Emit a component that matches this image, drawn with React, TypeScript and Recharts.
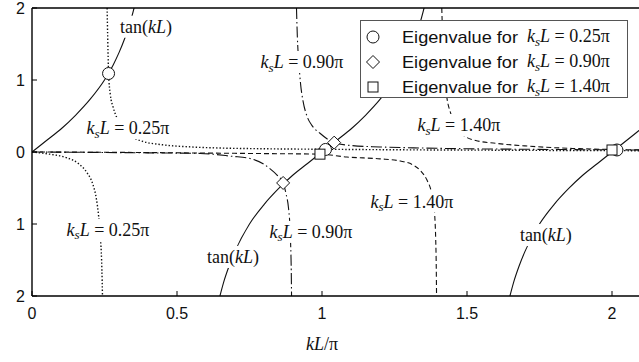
import React from 'react';
import { ComposedChart, Line, Scatter, XAxis, YAxis, ReferenceDot, Legend } from 'recharts';

// ---------- axes ----------
const xTicks = [0, 0.5, 1, 1.5, 2];
const xTickLabels = ['0', '0.5', '1', '1.5', '2'];
const yTicks = [-2, -1, 0, 1, 2];
const yTickLabels = ['2', '1', '0', '1', '2'];

// ---------- tan(kL) branches ----------
const tanAx = [0, 0.05, 0.1, 0.15, 0.2, 0.25, 0.28, 0.3, 0.32, 0.34, 0.352];
const tanAy = [0, 0.16, 0.32, 0.51, 0.73, 1.0, 1.21, 1.38, 1.58, 1.82, 2.0];
const tanBx = [0.648, 0.66, 0.68, 0.7, 0.75, 0.8, 0.85, 0.9, 0.95, 1.0, 1.05, 1.1, 1.15, 1.2, 1.25, 1.3, 1.32, 1.34, 1.352];
const tanBy = [-2.0, -1.82, -1.58, -1.38, -1.0, -0.73, -0.51, -0.32, -0.16, 0, 0.16, 0.32, 0.51, 0.73, 1.0, 1.38, 1.58, 1.82, 2.0];
const tanCx = [1.648, 1.66, 1.68, 1.7, 1.75, 1.8, 1.85, 1.9, 1.95, 2.0, 2.05, 2.1];
const tanCy = [-2.0, -1.82, -1.58, -1.38, -1.0, -0.73, -0.51, -0.32, -0.16, 0, 0.16, 0.32];

// ---------- ksL = 0.25π (dotted) ----------
const ks025LowX = [0, 0.06, 0.12, 0.16, 0.19, 0.21, 0.222, 0.23, 0.236, 0.24, 0.242, 0.243];
const ks025LowY = [0, -0.03, -0.08, -0.16, -0.29, -0.45, -0.65, -0.9, -1.2, -1.5, -1.8, -2.0];
const ks025UpX = [0.259, 0.261, 0.264, 0.27, 0.28, 0.29, 0.3, 0.32, 0.34, 0.38, 0.45, 0.55, 0.65, 0.8, 1.0, 1.3, 1.6, 1.9, 2.1];
const ks025UpY = [2.0, 1.6, 1.1, 0.8, 0.62, 0.5, 0.42, 0.3, 0.22, 0.15, 0.1, 0.07, 0.055, 0.045, 0.038, 0.03, 0.025, 0.02, 0.018];

// ---------- ksL = 0.90π (dash-dot) ----------
const ks090LowX = [0, 0.2, 0.4, 0.58, 0.69, 0.752, 0.8, 0.82, 0.845, 0.866, 0.876, 0.884, 0.889, 0.892, 0.894, 0.895];
const ks090LowY = [0, -0.005, -0.012, -0.02, -0.06, -0.09, -0.17, -0.23, -0.32, -0.43, -0.58, -0.76, -1.0, -1.3, -1.65, -2.0];
const ks090UpX = [0.912, 0.915, 0.92, 0.926, 0.935, 0.948, 0.965, 0.993, 1.042, 1.1, 1.2, 1.35, 1.5, 1.7, 1.9, 2.1];
const ks090UpY = [2.0, 1.6, 1.25, 0.95, 0.7, 0.5, 0.37, 0.26, 0.13, 0.09, 0.07, 0.055, 0.045, 0.038, 0.032, 0.028];

// ---------- ksL = 1.40π (dashed) ----------
const ks140LowX = [0, 0.3, 0.6, 0.8, 0.993, 1.086, 1.2, 1.27, 1.314, 1.34, 1.362, 1.375, 1.383, 1.389, 1.392, 1.394, 1.395];
const ks140LowY = [0, -0.005, -0.015, -0.022, -0.03, -0.07, -0.095, -0.125, -0.18, -0.26, -0.39, -0.52, -0.67, -0.9, -1.2, -1.6, -2.0];
const ks140UpX = [1.413, 1.416, 1.42, 1.426, 1.432, 1.442, 1.46, 1.486, 1.53, 1.6, 1.7, 1.8, 1.9, 2.0, 2.1];
const ks140UpY = [2.0, 1.6, 1.2, 0.9, 0.72, 0.56, 0.38, 0.24, 0.16, 0.12, 0.085, 0.06, 0.045, 0.035, 0.03];

// ---------- eigenvalues ----------
const eigCircleX = [0.264, 1.012, 2.017];
const eigCircleY = [1.09, 0.035, 0.028];
const eigDiamondX = [0.866, 1.042];
const eigDiamondY = [-0.43, 0.13];
const eigSquareX = [0.993, 2.0];
const eigSquareY = [-0.03, 0.028];

// ---------- curve annotations ----------
const annotKind = ['tan', 'ks', 'ks', 'ks', 'ks', 'tan', 'ks', 'ks', 'tan'];
const annotValue = ['', '0.25', '0.90', '1.40', '0.25', '', '0.90', '1.40', ''];
const annotX = [0.393, 0.331, 0.931, 1.472, 0.262, 0.693, 0.962, 1.31, 1.772];
const annotY = [1.74, 0.33, 1.25, 0.375, -1.083, -1.458, -1.11, -0.69, -1.153];

const legendValues = ['0.25', '0.90', '1.40'];
const legendShapes = ['circle', 'diamond', 'square'];

const pts = (xs: number[], ys: number[]) => xs.map((x, i) => ({ x, y: ys[i] }));

const INK = '#111';
const SERIF = '"Liberation Serif", "Times New Roman", serif';
const SANS = '"Liberation Sans", Arial, sans-serif';

function Marker({ cx, cy, shape }: { cx: number; cy: number; shape: string }) {
  if (shape === 'circle') return <circle cx={cx} cy={cy} r={6} fill="#fff" stroke={INK} strokeWidth={1} />;
  if (shape === 'diamond') {
    const h = 6.5;
    return (
      <polygon
        points={`${cx},${cy - h} ${cx + h},${cy} ${cx},${cy + h} ${cx - h},${cy}`}
        fill="#fff"
        stroke={INK}
        strokeWidth={1}
      />
    );
  }
  return <rect x={cx - 5} y={cy - 5} width={10} height={10} fill="#fff" stroke={INK} strokeWidth={1} />;
}

function KsText({ x, y, value, anchor }: { x: number; y: number; value: string; anchor: 'start' | 'middle' }) {
  return (
    <text x={x} y={y} textAnchor={anchor} fontFamily={SERIF} fontSize={18} fill={INK}>
      <tspan fontStyle="italic">k</tspan>
      <tspan fontStyle="italic" fontSize={13} dy={3.5}>s</tspan>
      <tspan fontStyle="italic" dy={-3.5}>L</tspan>
      <tspan>{` = ${value}π`}</tspan>
    </text>
  );
}

function CurveLabel(props: any) {
  const { cx, cy, kind, value } = props;
  if (cx == null || cy == null) return null;
  const w = kind === 'tan' ? 58 : 94;
  return (
    <g>
      <rect x={cx - w / 2} y={cy - 11} width={w} height={22} fill="#fff" />
      {kind === 'tan' ? (
        <text x={cx} y={cy + 6} textAnchor="middle" fontFamily={SERIF} fontSize={18} fill={INK}>
          tan(<tspan fontStyle="italic">kL</tspan>)
        </text>
      ) : (
        <KsText x={cx} y={cy + 6} value={value} anchor="middle" />
      )}
    </g>
  );
}

function LegendBox() {
  return (
    <div
      style={{
        width: 268,
        height: 78,
        background: '#fff',
        border: '1px solid #555',
        boxSizing: 'border-box',
      }}
    >
      <svg width={266} height={76} style={{ display: 'block', overflow: 'visible' }}>
        {legendValues.map((v, i) => {
          const cy = 16 + i * 25;
          return (
            <g key={v}>
              <Marker cx={12} cy={cy} shape={legendShapes[i]} />
              <text
                x={41}
                y={cy + 6}
                fontFamily={SANS}
                fontSize={17}
                textLength={116}
                lengthAdjust="spacingAndGlyphs"
                fill={INK}
              >
                Eigenvalue for
              </text>
              <KsText x={166} y={cy + 5} value={v} anchor="start" />
            </g>
          );
        })}
      </svg>
    </div>
  );
}

const axisLine = { stroke: '#000', strokeWidth: 1.4 };
const tickLine = { stroke: '#000', strokeWidth: 1 };

export default function App() {
  const curves = [
    { d: pts(tanAx, tanAy), dash: undefined, w: 1.1 },
    { d: pts(tanBx, tanBy), dash: undefined, w: 1.1 },
    { d: pts(tanCx, tanCy), dash: undefined, w: 1.1 },
    { d: pts(ks025LowX, ks025LowY), dash: '1.4 2', w: 1.4 },
    { d: pts(ks025UpX, ks025UpY), dash: '1.4 2', w: 1.4 },
    { d: pts(ks090LowX, ks090LowY), dash: '11 3 1.5 3', w: 1.1 },
    { d: pts(ks090UpX, ks090UpY), dash: '11 3 1.5 3', w: 1.1 },
    { d: pts(ks140LowX, ks140LowY), dash: '5 3', w: 1.1 },
    { d: pts(ks140UpX, ks140UpY), dash: '5 3', w: 1.1 },
  ];
  return (
    <div style={{ position: 'absolute', left: 0, top: 0, width: 639, height: 362, overflow: 'hidden', background: '#fff' }}>
      <ComposedChart width={660} height={362} margin={{ top: 7, right: 18, left: 0, bottom: 0 }}>
        <XAxis
          xAxisId="b"
          type="number"
          dataKey="x"
          domain={[0, 2.1]}
          ticks={xTicks}
          interval={0}
          allowDataOverflow
          tickFormatter={(v: number) => xTickLabels[xTicks.indexOf(v)]}
          tickSize={-5}
          tickMargin={17}
          height={66}
          axisLine={axisLine}
          tickLine={tickLine}
          tick={{ fill: INK, fontSize: 16, fontFamily: SANS }}
          label={{
            content: (p: any) => {
              const vb = p.viewBox || {};
              return (
                <text x={vb.x + 290} y={vb.y + 54} textAnchor="middle" fontFamily={SERIF} fontSize={18} fill={INK}>
                  <tspan fontStyle="italic">kL</tspan>/π
                </text>
              );
            },
          }}
        />
        <XAxis
          xAxisId="t"
          orientation="top"
          type="number"
          dataKey="x"
          domain={[0, 2.1]}
          ticks={xTicks}
          interval={0}
          allowDataOverflow
          tick={false}
          tickSize={-5}
          height={1}
          axisLine={axisLine}
          tickLine={tickLine}
        />
        <YAxis
          yAxisId="l"
          type="number"
          dataKey="y"
          domain={[-2, 2]}
          ticks={yTicks}
          interval={0}
          allowDataOverflow
          tickFormatter={(v: number) => yTickLabels[yTicks.indexOf(v)]}
          tickSize={-5}
          tickMargin={12}
          width={32}
          axisLine={axisLine}
          tickLine={tickLine}
          tick={{ fill: INK, fontSize: 16, fontFamily: SANS }}
        />
        <YAxis
          yAxisId="r"
          orientation="right"
          type="number"
          dataKey="y"
          domain={[-2, 2]}
          ticks={yTicks}
          interval={0}
          allowDataOverflow
          tick={false}
          tickSize={-5}
          width={1}
          axisLine={axisLine}
          tickLine={tickLine}
        />
        {curves.map((c, i) => (
          <Line
            key={i}
            xAxisId="b"
            yAxisId="l"
            data={c.d}
            dataKey="y"
            type="monotone"
            stroke={INK}
            strokeWidth={c.w}
            strokeDasharray={c.dash}
            dot={false}
            activeDot={false}
            isAnimationActive={false}
            legendType="none"
          />
        ))}
        {annotX.map((x, i) => (
          <ReferenceDot
            key={`a${i}`}
            xAxisId="b"
            yAxisId="l"
            x={x}
            y={annotY[i]}
            r={0}
            shape={(p: any) => <CurveLabel cx={p.cx} cy={p.cy} kind={annotKind[i]} value={annotValue[i]} />}
          />
        ))}
        <Scatter
          xAxisId="b"
          yAxisId="l"
          data={pts(eigCircleX, eigCircleY)}
          dataKey="y"
          isAnimationActive={false}
          shape={(p: any) => <Marker cx={p.cx} cy={p.cy} shape="circle" />}
        />
        <Scatter
          xAxisId="b"
          yAxisId="l"
          data={pts(eigDiamondX, eigDiamondY)}
          dataKey="y"
          isAnimationActive={false}
          shape={(p: any) => <Marker cx={p.cx} cy={p.cy} shape="diamond" />}
        />
        <Scatter
          xAxisId="b"
          yAxisId="l"
          data={pts(eigSquareX, eigSquareY)}
          dataKey="y"
          isAnimationActive={false}
          shape={(p: any) => <Marker cx={p.cx} cy={p.cy} shape="square" />}
        />
        <Legend
          layout="horizontal"
          verticalAlign="middle"
          align="center"
          content={() => <LegendBox />}
          wrapperStyle={{ position: 'absolute', left: 360, top: 20, width: 268, height: 78 }}
        />
      </ComposedChart>
    </div>
  );
}
